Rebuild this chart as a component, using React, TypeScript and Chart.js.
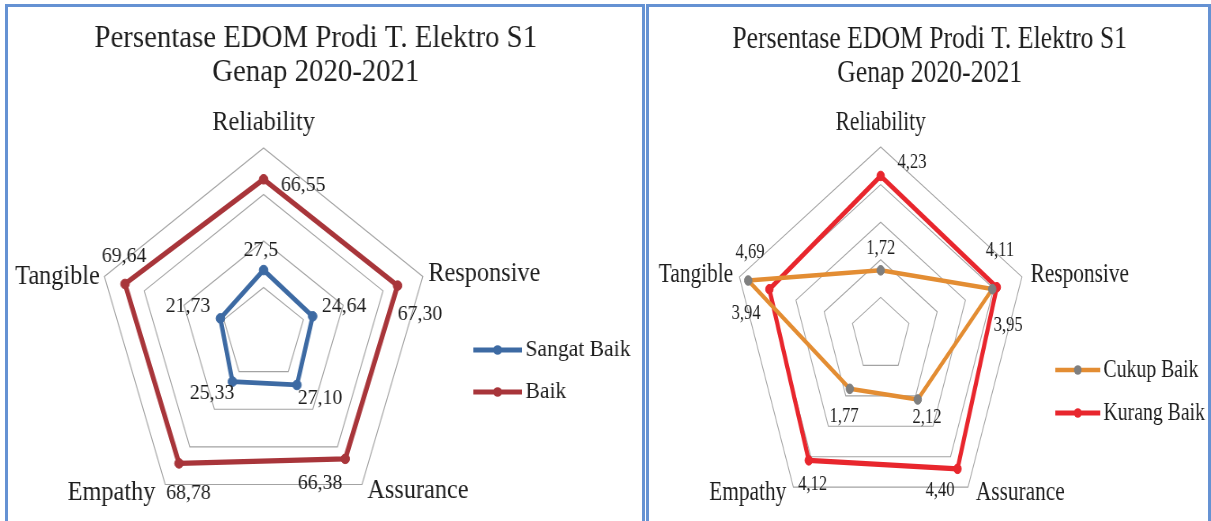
import { useEffect, useRef } from "react";
import { Chart, registerables } from "chart.js";

Chart.register(...registerables);

const categories = ["Reliability", "Responsive", "Assurance", "Empathy", "Tangible"];
const titleLines = ["Persentase EDOM Prodi T. Elektro S1", "Genap 2020-2021"];

// values as printed on the chart (comma decimals)
const sangatBaik = ["27,5", "24,64", "27,10", "25,33", "21,73"];
const baik = ["66,55", "67,30", "66,38", "68,78", "69,64"];
const cukupBaik = ["1,72", "3,95", "2,12", "1,77", "4,69"];
const kurangBaik = ["4,23", "4,11", "4,40", "4,12", "3,94"];

const leftTicks = [0, 20, 40, 60, 80];
const rightTicks = [0, 1, 2, 3, 4, 5];

const toNum = (s: string) => parseFloat(s.replace(",", "."));
const FONT = '"Liberation Serif", "Times New Roman", serif';
const TEXT = "#1e1e1e";

type Series = { name: string; values: string[]; color: string; marker: string; width: number };
type Panel = {
  frame: { left: number; top: number; width: number; height: number };
  canvasLeft: number;
  canvasTop: number;
  W: number;
  H: number;
  sx: number;
  padding: { left: number; right: number; top: number; bottom: number };
  ticks: number[];
  title: { x: number; y: number[]; size: number };
  cat: { size: number; offsets: number[][] };
  value: { size: number; offsets: number[][][] };
  legend: { x1: number; x2: number; textX: number; y: number[]; size: number };
  series: Series[];
};

const leftPanel: Panel = {
  frame: { left: 5, top: 4, width: 640, height: 600 },
  canvasLeft: 0,
  canvasTop: 1,
  W: 700,
  H: 530,
  sx: 0.9,
  padding: { left: 98, right: 230, top: 140, bottom: 18 },
  ticks: leftTicks,
  title: { x: 342, y: [31, 65], size: 32 },
  cat: { size: 27, offsets: [[0, -25], [6, -3], [6, 6], [-11, 8], [-5, 0]] },
  value: {
    size: 22,
    offsets: [
      [[-3, -20], [35, -10], [25.6, 13], [-22.7, 11.4], [-36, -11.7]],
      [[44, 6], [25, 29], [-28, 24], [10.5, 30], [-1, -28]],
    ],
  },
  legend: { x1: 517, x2: 571, textX: 575, y: [342, 384], size: 24 },
  series: [
    { name: "Sangat Baik", values: sangatBaik, color: "#3d6aa3", marker: "#3d6aa3", width: 4.8 },
    { name: "Baik", values: baik, color: "#a8353a", marker: "#a8353a", width: 5.2 },
  ],
};

const rightPanel: Panel = {
  frame: { left: 646, top: 4, width: 565, height: 600 },
  canvasLeft: 1,
  canvasTop: 1,
  W: 710,
  H: 530,
  sx: 0.79,
  padding: { left: 104, right: 230, top: 139, bottom: 15 },
  ticks: rightTicks,
  title: { x: 354, y: [31, 65], size: 32.5 },
  cat: { size: 27, offsets: [[0, -24], [11, -2], [10, 6], [-9, 6], [-8, -2]] },
  value: {
    size: 21,
    offsets: [
      [[0, -22], [20, 36], [11.8, 17.5], [-7.3, 28], [2.3, -28.5]],
      [[39.6, -13], [4, -37], [-22, 22], [5, 24], [-29.6, 24]],
    ],
  },
  legend: { x1: 513, x2: 570, textX: 574, y: [362, 405], size: 25 },
  series: [
    { name: "Cukup Baik", values: cukupBaik, color: "#e38d33", marker: "#7f7f7f", width: 4.5 },
    { name: "Kurang Baik", values: kurangBaik, color: "#e8262d", marker: "#e8262d", width: 5.2 },
  ],
};

function makeDecor(p: Panel) {
  return {
    id: "decor",
    afterDraw(chart: any) {
      const ctx = chart.ctx as CanvasRenderingContext2D;
      const scale = chart.scales.r;
      ctx.save();
      ctx.fillStyle = TEXT;
      ctx.textBaseline = "middle";

      // title
      ctx.font = `${p.title.size}px ${FONT}`;
      ctx.textAlign = "center";
      titleLines.forEach((line, i) => ctx.fillText(line, p.title.x, p.title.y[i]));

      // category labels
      ctx.font = `${p.cat.size}px ${FONT}`;
      (chart.data.labels as string[]).forEach((lab, i) => {
        const pt = scale.getPointPosition(i, scale.drawingArea);
        const [dx, dy] = p.cat.offsets[i];
        ctx.textAlign = dx === 0 ? "center" : dx > 0 ? "left" : "right";
        ctx.fillText(lab, pt.x + dx, pt.y + dy);
      });

      // value labels
      ctx.font = `${p.value.size}px ${FONT}`;
      ctx.textAlign = "center";
      p.series.forEach((s, di) => {
        const meta = chart.getDatasetMeta(di);
        meta.data.forEach((el: any, i: number) => {
          const [dx, dy] = p.value.offsets[di][i];
          ctx.fillText(s.values[i], el.x + dx, el.y + dy);
        });
      });

      // legend
      p.series.forEach((s, i) => {
        const y = p.legend.y[i];
        ctx.beginPath();
        ctx.strokeStyle = s.color;
        ctx.lineWidth = s.width;
        ctx.moveTo(p.legend.x1, y);
        ctx.lineTo(p.legend.x2, y);
        ctx.stroke();
        ctx.beginPath();
        ctx.fillStyle = s.marker;
        ctx.arc((p.legend.x1 + p.legend.x2) / 2, y, 4.8, 0, Math.PI * 2);
        ctx.fill();
        ctx.fillStyle = TEXT;
        ctx.font = `${p.legend.size}px ${FONT}`;
        ctx.textAlign = "left";
        ctx.fillText(s.name, p.legend.textX, y);
      });
      ctx.restore();
    },
  };
}

function makeConfig(p: Panel): any {
  const t = p.ticks;
  return {
    type: "radar",
    data: {
      labels: categories,
      datasets: p.series.map((s) => ({
        label: s.name,
        data: s.values.map(toNum),
        borderColor: s.color,
        backgroundColor: s.color,
        pointBackgroundColor: s.marker,
        pointBorderColor: s.marker,
        pointRadius: 4.8,
        pointBorderWidth: 1,
        borderWidth: s.width,
        borderJoinStyle: "round",
        fill: false,
      })),
    },
    options: {
      responsive: false,
      maintainAspectRatio: false,
      animation: false,
      layout: { padding: p.padding },
      plugins: {
        legend: { display: false },
        title: { display: false },
        tooltip: { enabled: false },
      },
      scales: {
        r: {
          min: t[0],
          max: t[t.length - 1],
          ticks: { display: false, stepSize: t[1] - t[0] },
          grid: { color: "#a3a3a3", lineWidth: 1.1 },
          angleLines: { display: false },
          pointLabels: { display: false },
        },
      },
    },
    plugins: [makeDecor(p)],
  };
}

function RadarPanel({ cfg }: { cfg: Panel }) {
  const ref = useRef<HTMLCanvasElement>(null);
  useEffect(() => {
    const chart = new Chart(ref.current as HTMLCanvasElement, makeConfig(cfg));
    return () => chart.destroy();
  }, [cfg]);
  return (
    <div
      style={{
        position: "absolute",
        left: cfg.frame.left,
        top: cfg.frame.top,
        width: cfg.frame.width,
        height: cfg.frame.height,
        border: "3px solid #6592d3",
        boxSizing: "border-box",
        background: "#fff",
      }}
    >
      <div
        style={{
          position: "absolute",
          left: cfg.canvasLeft,
          top: cfg.canvasTop,
          width: cfg.W,
          height: cfg.H,
          transform: `scaleX(${cfg.sx})`,
          transformOrigin: "0 0",
        }}
      >
        <canvas ref={ref} width={cfg.W} height={cfg.H} style={{ width: cfg.W, height: cfg.H, display: "block" }} />
      </div>
    </div>
  );
}

export default function App() {
  return (
    <div
      style={{
        position: "absolute",
        left: 0,
        top: 0,
        width: 1211,
        height: 521,
        overflow: "hidden",
        background: "#fff",
      }}
    >
      <RadarPanel cfg={leftPanel} />
      <RadarPanel cfg={rightPanel} />
    </div>
  );
}
